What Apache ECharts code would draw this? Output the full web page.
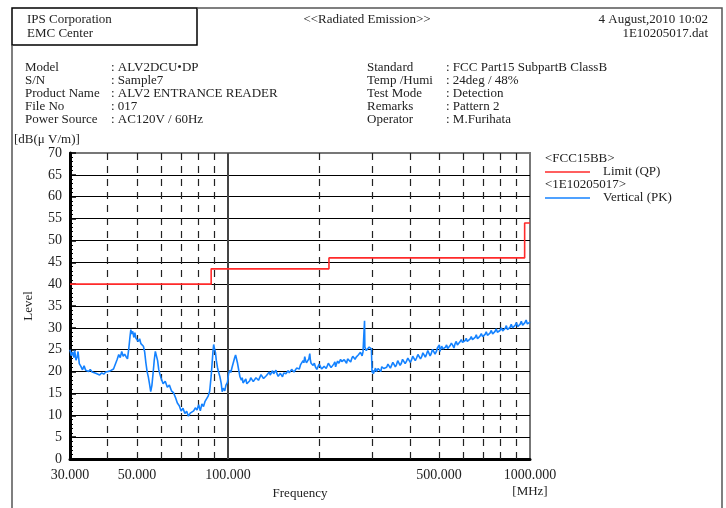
<!DOCTYPE html>
<html>
<head>
<meta charset="utf-8">
<script src="https://cdn.jsdelivr.net/npm/echarts@6/dist/echarts.min.js"></script>
<style>
html,body{margin:0;padding:0;background:#fff;}
#chart{width:726px;height:508px;}
</style>
</head>
<body>
<div id="chart"></div>
<script>
// ---- data ----
const xTickLabels = [30, 50, 100, 500, 1000];
const dashedGridFreqs = [40, 50, 60, 70, 80, 90, 200, 300, 400, 500, 600, 700, 800, 900];
const solidGridFreqs = [100];

const limitFreq = [30, 88, 88, 216, 216, 960, 960, 1000];
const limitLevel = [40, 40, 43.5, 43.5, 46, 46, 54, 54];

// main trace points (MHz, dB(uV/m))
const measFreq = [30.0,30.3,30.6,30.9,31.1,31.4,31.7,31.9,32.2,32.6,33.0,33.4,33.8,34.2,34.6,35.0,35.5,36.0,36.5,37.0,37.6,38.2,38.8,39.4,40.0,40.6,41.2,41.8,42.4,43.0,43.5,44.0,44.5,45.0,45.5,46.0,46.5,47.0,47.4,47.7,48.0,48.4,48.8,49.2,49.6,50.0,50.5,51.0,51.5,52.0,52.5,53.0,53.5,54.0,54.5,55.0,55.5,56.0,56.5,57.0,57.5,58.0,58.5,59.0,59.5,60.0,61.0,62.0,63.0,64.0,65.0,66.0,67.0,68.0,69.0,70.0,71.0,72.0,73.0,74.0,75.0,76.0,77.0,78.0,79.0,80.0,81.0,82.0,83.0,84.0,85.0,86.0,87.0,88.0,88.6,89.2,89.7,90.2,90.9,91.5,92.3,93.0,94.0,95.0,95.7,96.5,97.6,98.5,99.6,100.5,101.4,102.2,103.2,104.2,105.3,106.0,106.7,107.6,108.6,109.6,110.8,112.2,113.7,115.5,118.1,120.0,122.7,125.0,127.5,130.0,132.5,135.9,138.0,140.5,143.0,145.5,148.0,150.3,153.0,155.5,158.2,161.0,164.0,167.0,170.7,174.0,177.3,179.6,181.9,184.0,186.6,188.5,191.4,195.0,198.8,202.0,206.5,210.0,213.0,217.1,222.0,226.0,228.4,233.0,236.0,240.3,245.0,249.0,252.8,257.0,261.0,265.9,270.0,273.0,276.2,280.0,282.6,283.3,284.0,287.0,290.6,293.5,296.6,298.5,300.0,303.0,306.0,310.0,314.0,318.6,323.0,328.0,335.3,342.0,348.0,355.0,361.6,368.0,375.0,382.0,390.2,398.0,405.0,413.0,421.2,430.0,438.0,446.0,454.6,463.0,471.0,480.0,490.0,497.0,501.0,505.0,515.0,525.0,534.0,543.4,555.0,565.0,575.0,586.4,598.0,610.0,620.0,632.9,645.0,658.0,670.0,683.1,697.0,710.0,723.0,737.2,752.0,766.0,780.0,795.7,812.0,828.0,842.0,858.7,875.0,893.0,910.0,926.9,945.0,962.0,980.0,1000.0];
const measLevel = [25.0,23.6,24.5,23.2,24.8,22.6,23.4,24.6,21.8,21.2,20.4,21.3,20.3,20.6,20.0,20.5,19.9,20.3,19.6,19.9,19.2,19.7,19.4,19.9,19.8,20.1,19.8,20.6,21.0,22.8,23.9,23.2,24.6,23.5,24.0,23.4,22.9,25.5,28.0,29.6,28.6,29.2,27.8,28.9,27.6,27.9,26.9,27.5,26.4,26.6,25.8,24.5,22.0,20.0,18.8,17.2,15.4,16.8,19.5,22.5,24.6,24.2,22.5,20.5,19.5,18.6,17.2,17.8,16.4,16.9,15.6,15.2,14.1,12.8,12.2,11.0,11.6,10.4,10.9,9.8,10.5,10.2,11.0,11.7,11.2,12.4,11.0,12.6,12.0,13.2,12.8,14.4,15.5,19.0,21.8,24.5,26.2,25.3,24.4,22.6,21.0,20.0,18.9,17.3,15.4,16.2,15.6,16.9,17.5,19.5,20.3,19.8,21.0,21.4,23.2,23.8,23.5,21.9,20.3,18.8,18.0,17.4,17.8,17.2,17.9,18.3,18.0,18.8,18.3,19.0,18.6,19.5,19.2,20.2,19.8,19.4,18.9,19.3,19.7,19.5,20.2,20.0,20.6,20.3,21.1,21.6,22.5,23.4,22.0,22.3,24.1,21.9,21.4,21.0,20.9,21.3,20.8,21.6,21.0,21.5,21.2,22.2,21.6,21.9,22.8,22.1,22.4,22.9,22.5,23.0,23.4,23.3,23.8,24.2,24.0,24.5,24.4,31.6,25.6,24.8,25.0,25.6,25.3,25.2,19.8,19.5,20.3,20.0,20.7,20.4,21.1,20.7,21.0,21.5,21.2,21.8,21.6,22.2,21.9,22.5,22.4,22.9,22.6,23.2,23.1,23.6,23.4,23.9,24.0,24.4,24.1,24.7,24.6,25.1,26.1,25.0,25.2,25.6,25.3,25.9,26.0,26.4,26.1,26.8,26.7,27.1,26.9,27.4,27.3,27.8,27.5,28.1,28.0,28.5,28.3,28.8,28.6,29.2,29.0,29.4,29.3,29.9,29.6,30.1,30.0,30.6,30.3,30.8,30.6,31.2,30.9,31.3];

// extra in-between readings of the noisy trace (merged with the main points by frequency)
const detailFreq = [111.5,113.0,114.6,116.8,119.0,121.3,123.8,126.2,128.7,131.2,134.2,137.0,139.2,141.7,144.2,146.7,149.1,151.6,154.2,156.8,159.6,162.5,165.5,168.8,172.3,175.6,178.4,180.7,183.0,185.3,187.5,190.0,193.2,196.9,200.4,204.2,208.2,211.5,215.0,219.5,224.0,227.2,230.7,234.5,238.2,242.6,247.0,250.9,254.9,259.0,263.5,268.0,271.5,274.6,278.1,281.3,
  301.5,304.5,308.0,312.0,316.0,320.8,325.5,331.6,338.6,345.0,351.5,358.3,364.8,371.5,378.5,386.1,394.1,401.5,409.0,417.1,425.6,434.0,442.0,450.3,458.8,467.0,475.5,485.0,493.5,503.0,510.0,520.0,529.5,538.7,549.2,560.0,570.0,580.7,592.2,604.0,615.0,626.5,639.0,651.5,664.0,676.5,690.0,703.5,716.5,730.0,744.6,759.0,773.0,788.0,804.0,820.0,835.0,850.4,866.8,884.0,901.5,918.4,936.0,953.5,971.0,990.0];
const detailLevel = [18.6,17.0,18.3,17.6,18.6,17.7,18.6,18.0,19.3,18.4,19.1,19.9,19.0,19.5,20.3,18.9,19.6,18.8,20.1,19.1,19.7,20.5,19.9,20.8,20.6,21.2,22.0,22.6,21.6,22.9,22.6,22.1,21.9,20.5,21.7,20.6,21.2,20.7,21.9,20.9,21.7,21.1,22.4,21.5,22.3,22.7,21.9,23.2,22.2,23.5,22.8,23.6,23.4,24.4,23.6,24.8,
  20.3,19.2,20.8,19.8,21.1,20.0,21.5,20.4,21.7,20.8,22.1,21.1,22.5,21.4,22.8,21.8,23.1,22.1,23.5,22.5,23.9,22.9,24.3,23.3,24.8,23.6,25.1,24.0,25.4,24.6,25.8,24.8,26.1,25.2,26.5,25.4,26.9,25.8,27.3,26.3,27.6,26.6,28.0,26.9,28.4,27.4,28.7,27.6,29.1,28.0,29.4,28.4,29.8,28.7,30.0,28.9,30.5,29.4,30.8,29.6,31.2,30.1,31.5,30.3,31.8,30.7];

const yMin = 0, yMax = 70, yStep = 5;

// ---- build ----
const FONT = '"Liberation Serif", "DejaVu Serif", serif';
const TXT = '#222';
const chart = echarts.init(document.getElementById('chart'), null, {renderer: 'canvas'});

function zip(a, b) { return a.map((v, i) => [v, b[i]]); }
const measData = zip(measFreq, measLevel).concat(zip(detailFreq, detailLevel)).sort((p, q) => p[0] - q[0]);

const nSplit = (yMax - yMin) / yStep + 1;
const splitColors = [];
for (let i = 0; i < nSplit; i++) splitColors.push(i === nSplit - 1 ? '#777' : '#000');

function txt(x, y, s, align) {
  return {type: 'text', x: x, y: y, silent: true,
    style: {text: s, font: '13px ' + FONT, fill: TXT, align: align || 'left', verticalAlign: 'middle'}};
}

const leftInfo = [['Model', ': ALV2DCU\u2022DP'], ['S/N', ': Sample7'], ['Product Name', ': ALV2 ENTRANCE READER'], ['File No', ': 017'], ['Power Source', ': AC120V / 60Hz']];
const rightInfo = [['Standard', ': FCC Part15 SubpartB ClassB'], ['Temp /Humi', ': 24deg / 48%'], ['Test Mode', ': Detection'], ['Remarks', ': Pattern 2'], ['Operator', ': M.Furihata']];

const graphics = [
  {type: 'rect', shape: {x: 12, y: 8, width: 185, height: 37}, style: {fill: 'none', stroke: '#000', lineWidth: 1.5}, silent: true},
  {type: 'polyline', shape: {points: [[197, 8], [722, 8], [722, 510]]}, style: {fill: 'none', stroke: '#555', lineWidth: 1.5}, silent: true},
  {type: 'polyline', shape: {points: [[12, 45], [12, 510]]}, style: {fill: 'none', stroke: '#555', lineWidth: 1.5}, silent: true},
  txt(27, 20, 'IPS Corporation'),
  txt(27, 34, 'EMC Center'),
  txt(367, 20, '<<Radiated Emission>>', 'center'),
  txt(708, 20, '4 August,2010 10:02', 'right'),
  txt(708, 34, '1E10205017.dat', 'right'),
  txt(14, 140, '[dB(\u03BC V/m)]'),
  txt(530, 492, '[MHz]', 'center'),
  txt(545, 159, '<FCC15BB>'),
  txt(603, 172, 'Limit (QP)'),
  txt(545, 185, '<1E10205017>'),
  txt(603, 198, 'Vertical (PK)'),
  {type: 'line', shape: {x1: 545, y1: 172, x2: 590, y2: 172}, style: {stroke: '#ff2a2a', lineWidth: 1.5}, silent: true},
  {type: 'line', shape: {x1: 545, y1: 198, x2: 590, y2: 198}, style: {stroke: '#1482ff', lineWidth: 1.5}, silent: true}
];
leftInfo.forEach((r, i) => { graphics.push(txt(25, 68 + i * 13, r[0])); graphics.push(txt(111, 68 + i * 13, r[1])); });
rightInfo.forEach((r, i) => { graphics.push(txt(367, 68 + i * 13, r[0])); graphics.push(txt(446, 68 + i * 13, r[1])); });

const gridLineData = dashedGridFreqs.map(f => ({xAxis: f, lineStyle: {type: [7, 6], color: '#222', width: 1.2}}))
  .concat(solidGridFreqs.map(f => ({xAxis: f, lineStyle: {type: 'solid', color: '#444', width: 2}})));

const option = {
  animation: false,
  backgroundColor: '#fff',
  textStyle: {fontFamily: FONT},
  grid: {left: 70, right: 196, top: 153, bottom: 49, show: true, borderColor: '#777', borderWidth: 2, backgroundColor: 'transparent'},
  xAxis: {
    type: 'log', logBase: 10, min: 30, max: 1000,
    name: 'Frequency', nameLocation: 'middle', nameGap: 28,
    nameTextStyle: {fontFamily: FONT, fontSize: 13, color: TXT},
    axisLine: {show: true, lineStyle: {color: '#000', width: 3}},
    axisTick: {show: false},
    splitLine: {show: false},
    minorTick: {show: false}, minorSplitLine: {show: false},
    axisLabel: {customValues: xTickLabels, showMinLabel: true, showMaxLabel: true, margin: 9,
      fontFamily: FONT, fontSize: 14, color: TXT, formatter: v => Number(v).toFixed(3)}
  },
  yAxis: {
    type: 'value', min: yMin, max: yMax, interval: yStep,
    name: 'Level', nameLocation: 'middle', nameGap: 35,
    nameTextStyle: {fontFamily: FONT, fontSize: 13, color: TXT},
    axisLine: {show: true, lineStyle: {color: '#000', width: 3}},
    axisTick: {show: true, inside: true, length: 6, lineStyle: {color: '#000', width: 1.5}},
    minorTick: {show: true, splitNumber: 5, length: 3, lineStyle: {color: '#000', width: 1}},
    splitLine: {show: true, lineStyle: {color: splitColors, width: 1}},
    axisLabel: {fontFamily: FONT, fontSize: 14, color: TXT, margin: 8}
  },
  graphic: graphics,
  series: [
    {
      name: 'Limit (QP)', type: 'line', data: zip(limitFreq, limitLevel), showSymbol: false, symbol: 'none',
      lineStyle: {color: '#ff2a2a', width: 1.6}, z: 3, silent: true,
      markLine: {silent: true, symbol: 'none', label: {show: false}, data: gridLineData, z: 1, animation: false}
    },
    {
      name: 'Vertical (PK)', type: 'line', data: measData, showSymbol: false, symbol: 'none',
      lineStyle: {color: '#1482ff', width: 1.6}, z: 4, silent: true
    }
  ]
};
chart.setOption(option);
</script>
</body>
</html>
